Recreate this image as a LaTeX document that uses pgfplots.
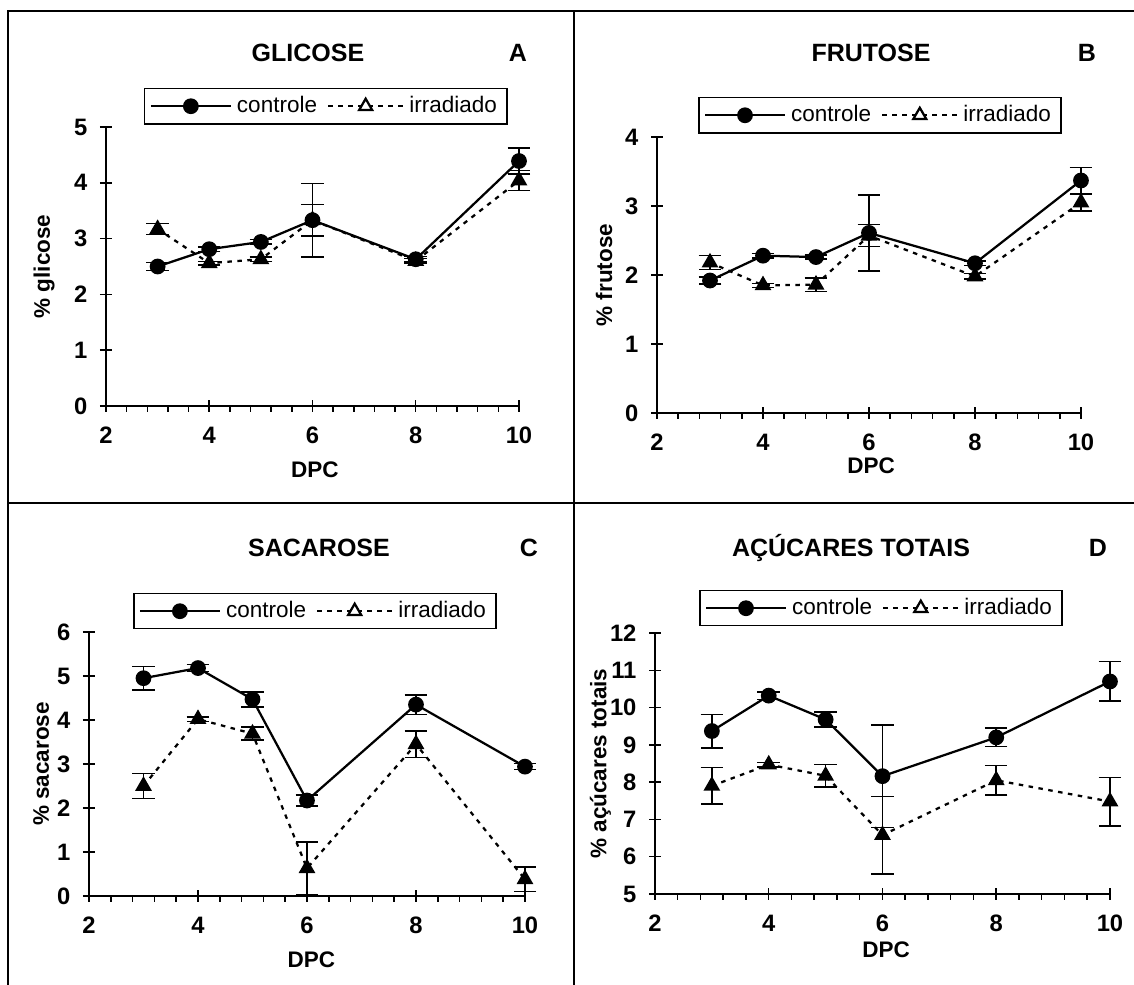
\documentclass[border=0pt]{standalone}
\usepackage{fontspec}
\setmainfont{Liberation Sans}
\usepackage{pgfplots}
\usepackage{pgfplotstable}
\pgfplotsset{compat=1.18}

% Panel A: glicose
\pgfplotstableread{
x y e
3 2.50 0.07
4 2.81 0.04
5 2.94 0.04
6 3.33 0.66
8 2.63 0.05
10 4.39 0.23
}\Actrl
\pgfplotstableread{
x y e
3 3.17 0.10
4 2.56 0.03
5 2.63 0.04
6 3.33 0.28
8 2.60 0.04
10 4.04 0.18
}\Airr
% Panel B: frutose
\pgfplotstableread{
x y e
3 1.92 0.05
4 2.28 0.03
5 2.26 0.03
6 2.61 0.55
8 2.17 0.03
10 3.37 0.19
}\Bctrl
\pgfplotstableread{
x y e
3 2.18 0.10
4 1.85 0.03
5 1.86 0.10
6 2.57 0.16
8 1.98 0.04
10 3.05 0.12
}\Birr
% Panel C: sacarose
\pgfplotstableread{
x y e
3 4.95 0.27
4 5.18 0.08
5 4.47 0.17
6 2.17 0.12
8 4.35 0.22
10 2.94 0.07
}\Cctrl
\pgfplotstableread{
x y e
3 2.50 0.28
4 4.02 0.05
5 3.69 0.15
6 0.63 0.60
8 3.45 0.30
10 0.38 0.28
}\Cirr
% Panel D: acucares totais
\pgfplotstableread{
x y e
3 9.37 0.45
4 10.32 0.10
5 9.68 0.20
6 8.16 1.37
8 9.20 0.25
10 10.70 0.53
}\Dctrl
\pgfplotstableread{
x y e
3 7.90 0.49
4 8.47 0.06
5 8.17 0.30
6 6.58 1.04
8 8.05 0.40
10 7.48 0.65
}\Dirr

\pgfplotsset{
  panel/.style={
    scale only axis,
    xmin=2, xmax=10,
    xtick={2,4,6,8,10},
    minor x tick num=4,
    axis lines=left,
    axis line style={-, line width=0.8pt},
    tick align=center,
    major tick length=4.8pt,
    minor tick length=2.4pt,
    minor x tick style={yshift=-1.2pt},
    every tick/.style={black, line width=0.6pt},
    tick label style={font=\bfseries\fontsize{9.5}{11}\selectfont},
    /pgf/number format/assume math mode=true,
    label style={font=\bfseries\fontsize{9}{11}\selectfont},
    xticklabel style={yshift=-2.5pt},
    yticklabel style={xshift=-1.5pt},
    legend columns=2,
    legend style={draw=black, line width=0.6pt, font=\fontsize{9}{11}\selectfont,
      anchor=north west, inner xsep=2pt, inner ysep=1pt,
      /tikz/every even column/.append style={column sep=2pt}},
    legend cell align=left,
    clip=false,
    error bars/y dir=both,
    error bars/y explicit,
    error bars/error bar style={solid, line width=0.6pt},
    error bars/error mark options={rotate=90, mark size=4.5pt, solid, line width=0.6pt},
  },
  ctrl/.style={black, solid, line width=0.9pt, mark=*, mark size=2.7pt,
    mark options={solid, fill=black},
    legend image code/.code={\draw[mark repeat=2,mark phase=2,##1] plot coordinates {(0pt,0pt) (16pt,0pt) (32pt,0pt)};}},
  irr/.style={black, line width=0.9pt, dash pattern=on 1.8pt off 2.2pt, mark=triangle*, mark size=3pt,
    mark options={solid, fill=black},
    legend image code/.code={\draw[mark repeat=2,mark phase=2,##1, mark options={solid, fill=white}] plot coordinates {(0pt,0pt) (15pt,0pt) (30pt,0pt)};}},
}

\begin{document}
\begin{tikzpicture}
\useasboundingbox (0pt,0pt) rectangle (453.6pt,394pt);
\fill[white] (0pt,0pt) rectangle (453.6pt,394pt);
% frame
\draw[line width=0.8pt] (3.2pt,0pt) -- (3.2pt,389.6pt) -- (453.6pt,389.6pt);
\draw[line width=0.8pt] (229.6pt,0pt) -- (229.6pt,389.6pt);
\draw[line width=0.8pt] (3.2pt,192.8pt) -- (453.6pt,192.8pt);

% Panel A
\begin{axis}[panel, at={(42.4pt,231.6pt)}, anchor=south west,
  width=165.2pt, height=111.6pt, ymin=0, ymax=5, ytick={0,1,...,5},
  xlabel={DPC}, ylabel={\% glicose},
  xlabel style={at={(axis description cs:0.506,-0.229)}, anchor=center},
  ylabel style={at={(axis description cs:-0.15,0.5)}, anchor=center},
  legend style={at={(axis description cs:0.092,1.14)}}]
\addplot[ctrl] table[x=x,y=y,y error=e]{\Actrl};
\addlegendentry{controle}
\addplot[irr] table[x=x,y=y,y error=e]{\Airr};
\addlegendentry{irradiado}
\end{axis}

% Panel B
\begin{axis}[panel, at={(262.8pt,228.8pt)}, anchor=south west,
  width=169.6pt, height=110.4pt, ymin=0, ymax=4, ytick={0,1,...,4},
  xlabel={DPC}, ylabel={\% frutose},
  xlabel style={at={(axis description cs:0.505,-0.19)}, anchor=center},
  ylabel style={at={(axis description cs:-0.125,0.5)}, anchor=center},
  legend style={at={(axis description cs:0.097,1.145)}}]
\addplot[ctrl] table[x=x,y=y,y error=e]{\Bctrl};
\addlegendentry{controle}
\addplot[irr] table[x=x,y=y,y error=e]{\Birr};
\addlegendentry{irradiado}
\end{axis}

% Panel C
\begin{axis}[panel, at={(35.6pt,35.6pt)}, anchor=south west,
  width=174.4pt, height=105.6pt, ymin=0, ymax=6, ytick={0,1,...,6},
  xlabel={DPC}, ylabel={\% sacarose},
  xlabel style={at={(axis description cs:0.51,-0.242)}, anchor=center},
  ylabel style={at={(axis description cs:-0.11,0.5)}, anchor=center},
  legend style={at={(axis description cs:0.101,1.148)}}]
\addplot[ctrl] table[x=x,y=y,y error=e]{\Cctrl};
\addlegendentry{controle}
\addplot[irr] table[x=x,y=y,y error=e]{\Cirr};
\addlegendentry{irradiado}
\end{axis}

% Panel D
\begin{axis}[panel, at={(262pt,36.4pt)}, anchor=south west,
  width=182pt, height=104.4pt, ymin=5, ymax=12, ytick={5,6,...,12},
  xlabel={DPC}, ylabel={\% açúcares totais},
  xlabel style={at={(axis description cs:0.508,-0.215)}, anchor=center},
  ylabel style={at={(axis description cs:-0.12,0.5)}, anchor=center},
  legend style={at={(axis description cs:0.097,1.165)}}]
\addplot[ctrl] table[x=x,y=y,y error=e]{\Dctrl};
\addlegendentry{controle}
\addplot[irr] table[x=x,y=y,y error=e]{\Dirr};
\addlegendentry{irradiado}
\end{axis}

% titles
\begin{scope}[every node/.style={font=\bfseries\fontsize{10}{12}\selectfont}]
\node at (123.2pt,372.8pt) {GLICOSE};
\node at (207.2pt,372.8pt) {A};
\node at (348.4pt,372.8pt) {FRUTOSE};
\node at (434.8pt,372.8pt) {B};
\node at (127.6pt,174.8pt) {SACAROSE};
\node at (211.6pt,174.8pt) {C};
\node at (340.4pt,174.8pt) {AÇÚCARES TOTAIS};
\node at (439.2pt,174.8pt) {D};
\end{scope}
\end{tikzpicture}
\end{document}
